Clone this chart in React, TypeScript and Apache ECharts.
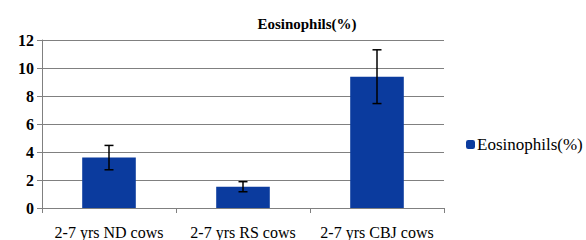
import React, { useEffect, useRef } from "react";
import * as echarts from "echarts";

const categories = ["2-7 yrs ND cows", "2-7 yrs RS cows", "2-7 yrs CBJ cows"];
const values = [3.6, 1.52, 9.38];
const errors = [0.87, 0.36, 1.92];
const seriesName = "Eosinophils(%)";
const titleText = "Eosinophils(%)";

export default function App() {
  const ref = useRef<HTMLDivElement>(null);
  useEffect(() => {
    document.body.style.margin = "0";
    const chart = echarts.init(ref.current!, null, { renderer: "svg" });
    const font = "serif";
    chart.setOption({
      animation: false,
      backgroundColor: "#ffffff",
      textStyle: { fontFamily: font },
      title: {
        text: titleText,
        left: 302,
        textAlign: "center",
        top: 11,
        textStyle: { fontFamily: font, fontSize: 15, fontWeight: "bold", color: "#000" },
      },
      legend: {
        data: [seriesName],
        left: 461,
        top: 131,
        itemWidth: 9,
        itemHeight: 9,
        itemGap: 0,
        textStyle: { fontFamily: font, fontSize: 17, color: "#000", padding: [0, 0, 0, -3] },
      },
      grid: { left: 42, right: 142, top: 40, bottom: 32 },
      xAxis: {
        type: "category",
        data: categories,
        axisLine: { show: true, lineStyle: { color: "#808080", width: 1 } },
        axisTick: { show: true, length: 5, lineStyle: { color: "#808080" } },
        axisLabel: { fontFamily: font, fontSize: 16, color: "#000", margin: 16, interval: 0 },
      },
      yAxis: {
        type: "value",
        min: 0,
        max: 12,
        interval: 2,
        axisLine: { show: true, lineStyle: { color: "#808080", width: 1 } },
        axisTick: { show: true, length: 5, lineStyle: { color: "#808080" } },
        axisLabel: { fontFamily: font, fontSize: 16, fontWeight: "bold", color: "#000", margin: 8 },
        splitLine: { show: true, lineStyle: { color: "#808080", width: 1 } },
      },
      series: [
        {
          name: seriesName,
          type: "bar",
          data: values,
          barWidth: "40%",
          itemStyle: { color: "#0b3b9e" },
        },
        {
          type: "custom",
          name: "err",
          data: values.map((v, i) => [i, v - errors[i], v + errors[i]]),
          z: 10,
          renderItem: (params: any, api: any) => {
            const x = api.value(0);
            const lo = api.coord([x, api.value(1)]);
            const hi = api.coord([x, api.value(2)]);
            const hw = 4.5;
            const style = { stroke: "#000", lineWidth: 1.5 };
            return {
              type: "group",
              children: [
                { type: "line", shape: { x1: lo[0], y1: lo[1], x2: hi[0], y2: hi[1] }, style },
                { type: "line", shape: { x1: lo[0] - hw, y1: lo[1], x2: lo[0] + hw, y2: lo[1] }, style },
                { type: "line", shape: { x1: hi[0] - hw, y1: hi[1], x2: hi[0] + hw, y2: hi[1] }, style },
              ],
            };
          },
        },
      ],
    });
    return () => chart.dispose();
  }, []);
  return <div ref={ref} style={{ width: 586, height: 240 }} />;
}
